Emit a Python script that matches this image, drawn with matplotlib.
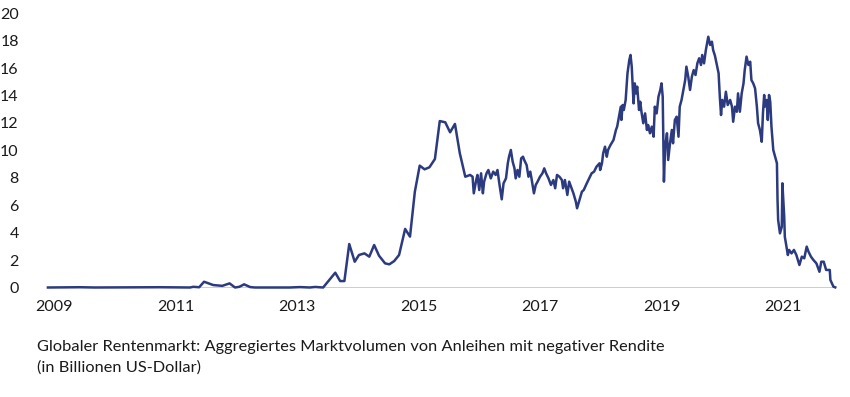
import matplotlib
matplotlib.use("Agg")
import matplotlib.pyplot as plt

plt.rcParams['font.family'] = ['Lato', 'DejaVu Sans']

# Zeitachse in Dezimaljahren, Werte in Billionen US-Dollar
jahre = [
    2008.90, 2009.43, 2009.67, 2010.74, 2011.24, 2011.29, 2011.39, 2011.47, 2011.62, 2011.77,
    2011.89, 2011.98, 2012.05, 2012.13, 2012.23, 2012.31, 2012.88, 2013.05, 2013.21, 2013.30,
    2013.43, 2013.63, 2013.71, 2013.78, 2013.86, 2013.95, 2014.02, 2014.11, 2014.19, 2014.27,
    2014.35, 2014.45, 2014.52, 2014.60, 2014.68, 2014.78, 2014.86, 2014.94, 2015.02, 2015.10,
    2015.18, 2015.27, 2015.35, 2015.44, 2015.52, 2015.60, 2015.68, 2015.77, 2015.85, 2015.89,
    2015.91, 2015.95, 2015.97, 2016.00, 2016.03, 2016.06, 2016.08, 2016.12, 2016.15, 2016.19,
    2016.23, 2016.27, 2016.30, 2016.33, 2016.37, 2016.40, 2016.44, 2016.47, 2016.49, 2016.52,
    2016.55, 2016.58, 2016.60, 2016.63, 2016.66, 2016.69, 2016.72, 2016.74, 2016.78, 2016.81,
    2016.84, 2016.86, 2016.90, 2016.93, 2016.96, 2017.00, 2017.04, 2017.07, 2017.10, 2017.14,
    2017.18, 2017.22, 2017.25, 2017.28, 2017.32, 2017.36, 2017.38, 2017.41, 2017.45, 2017.48,
    2017.51, 2017.55, 2017.59, 2017.61, 2017.65, 2017.69, 2017.72, 2017.77, 2017.81, 2017.85,
    2017.89, 2017.93, 2017.98, 2017.99, 2018.02, 2018.04, 2018.07, 2018.10, 2018.12, 2018.16,
    2018.21, 2018.25, 2018.27, 2018.30, 2018.33, 2018.34, 2018.36, 2018.38, 2018.41, 2018.44,
    2018.47, 2018.49, 2018.51, 2018.54, 2018.56, 2018.58, 2018.60, 2018.63, 2018.65, 2018.67,
    2018.70, 2018.73, 2018.76, 2018.78, 2018.81, 2018.84, 2018.87, 2018.89, 2018.92, 2018.95,
    2018.98, 2019.00, 2019.02, 2019.04, 2019.06, 2019.09, 2019.11, 2019.14, 2019.17, 2019.19,
    2019.22, 2019.25, 2019.28, 2019.30, 2019.33, 2019.36, 2019.39, 2019.41, 2019.44, 2019.47,
    2019.50, 2019.53, 2019.56, 2019.59, 2019.62, 2019.65, 2019.67, 2019.70, 2019.73, 2019.75,
    2019.77, 2019.80, 2019.83, 2019.85, 2019.88, 2019.94, 2019.96, 2019.98, 2020.00, 2020.03,
    2020.06, 2020.09, 2020.13, 2020.16, 2020.18, 2020.21, 2020.24, 2020.26, 2020.29, 2020.32,
    2020.35, 2020.37, 2020.40, 2020.43, 2020.46, 2020.48, 2020.51, 2020.54, 2020.57, 2020.59,
    2020.62, 2020.65, 2020.67, 2020.69, 2020.70, 2020.73, 2020.75, 2020.77, 2020.79, 2020.81,
    2020.84, 2020.87, 2020.90, 2020.91, 2020.92, 2020.95, 2020.98, 2020.99, 2021.02, 2021.03,
    2021.06, 2021.08, 2021.10, 2021.14, 2021.18, 2021.22, 2021.27, 2021.31, 2021.35, 2021.39,
    2021.42, 2021.46, 2021.50, 2021.55, 2021.60, 2021.63, 2021.67, 2021.71, 2021.77, 2021.78,
    2021.83, 2021.86,
]
volumen = [
    0.0, 0.02, 0.0, 0.02, 0.0, 0.05, 0.02, 0.42, 0.18, 0.12,
    0.3, 0.0, 0.05, 0.23, 0.03, 0.0, 0.0, 0.03, 0.0, 0.04,
    0.0, 1.08, 0.47, 0.47, 3.17, 1.88, 2.37, 2.49, 2.25, 3.1,
    2.32, 1.76, 1.69, 1.93, 2.37, 4.27, 3.71, 6.99, 8.89, 8.62,
    8.77, 9.37, 12.14, 12.05, 11.32, 11.93, 9.79, 8.08, 8.21, 8.08,
    6.87, 7.84, 8.21, 7.11, 8.33, 6.87, 7.72, 8.33, 8.57, 7.96,
    8.45, 8.21, 8.57, 7.6, 6.43, 7.6, 7.96, 9.06, 9.54, 10.03,
    9.18, 8.69, 7.96, 8.57, 8.08, 9.42, 9.54, 9.3, 8.93, 8.08,
    8.45, 7.96, 6.87, 7.48, 7.72, 8.08, 8.33, 8.69, 8.33, 7.96,
    7.48, 7.84, 7.24, 8.21, 8.08, 7.84, 7.24, 7.84, 6.75, 7.72,
    7.35, 6.87, 6.26, 5.78, 6.38, 6.99, 7.11, 7.6, 7.96, 8.33,
    8.45, 8.81, 9.06, 8.57, 9.06, 9.79, 10.27, 9.54, 10.03, 10.39,
    10.76, 11.49, 11.73, 12.46, 13.19, 12.22, 13.31, 12.95, 13.68, 15.62,
    16.59, 16.96, 16.11, 13.43, 14.89, 14.16, 14.65, 12.95, 13.55, 12.82,
    11.98, 12.7, 11.49, 11.85, 11.25, 11.73, 11.0, 13.19, 12.7, 13.92,
    14.41, 14.89, 13.92, 7.72, 10.27, 11.25, 9.3, 10.52, 11.49, 10.52,
    12.22, 12.46, 11.0, 13.19, 13.68, 14.41, 15.13, 16.11, 15.38, 14.41,
    15.38, 15.86, 15.5, 16.35, 16.72, 16.23, 16.96, 16.35, 17.32, 17.81,
    18.29, 17.69, 17.93, 17.32, 16.9, 15.62, 13.92, 12.58, 13.68, 13.19,
    14.28, 13.31, 13.68, 13.19, 12.09, 13.19, 12.82, 14.16, 12.82, 14.16,
    14.89, 15.86, 16.84, 16.23, 16.47, 15.13, 14.89, 14.53, 13.19, 11.98,
    11.49, 10.63, 12.7, 14.04, 13.19, 13.68, 12.22, 14.04, 13.55, 11.73,
    10.03, 9.54, 9.06, 6.38, 4.92, 3.95, 4.43, 7.6, 5.16, 3.7,
    2.9, 2.37, 2.74, 2.49, 2.74, 2.37, 1.64, 2.25, 2.13, 2.98,
    2.61, 2.25, 2.01, 1.76, 1.15, 1.88, 1.88, 1.28, 1.28, 0.55,
    0.06, 0.01,
]

jahr_ticks = [2009, 2011, 2013, 2015, 2017, 2019, 2021]
y_ticks = [0, 2, 4, 6, 8, 10, 12, 14, 16, 18, 20]
titel = "Globaler Rentenmarkt: Aggregiertes Marktvolumen von Anleihen mit negativer Rendite"
einheit = "(in Billionen US-Dollar)"

W, H = 850, 397
fig = plt.figure(figsize=(W / 100, H / 100), dpi=100)

# Pixel-Lage der Achse aus dem Vorbild abgeleitet
x0, x1 = jahre[0], jahre[-1]
px_links = 54 + (x0 - 2009) * 60.75
px_rechts = 54 + (x1 - 2009) * 60.75
ax = fig.add_axes([px_links / W, 1 - 287.5 / H, (px_rechts - px_links) / W, (287.5 - 13.3) / H])

ax.axhline(0, color='#c9c9c9', lw=1.3, zorder=1)
ax.plot(jahre, volumen, color='#2c3a80', lw=1.8, zorder=2, clip_on=False, solid_joinstyle='round')

ax.set_xlim(x0, x1)
ax.set_ylim(0, 20)
ax.set_xticks(jahr_ticks)
ax.set_xticklabels([str(j) for j in jahr_ticks])
ax.set_yticks(y_ticks)
for s in ax.spines.values():
    s.set_visible(False)
ax.tick_params(axis='both', length=0, labelsize=11.5, labelcolor='#1a1a1a')
ax.tick_params(axis='y', pad=21)
ax.tick_params(axis='x', pad=9)

fig.text(37 / W, 1 - 351 / H, titel, fontsize=11.8, color='#1a1a1a', va='baseline')
fig.text(37 / W, 1 - 372 / H, einheit, fontsize=11.8, color='#1a1a1a', va='baseline')

fig.savefig('out.png', dpi=100)
